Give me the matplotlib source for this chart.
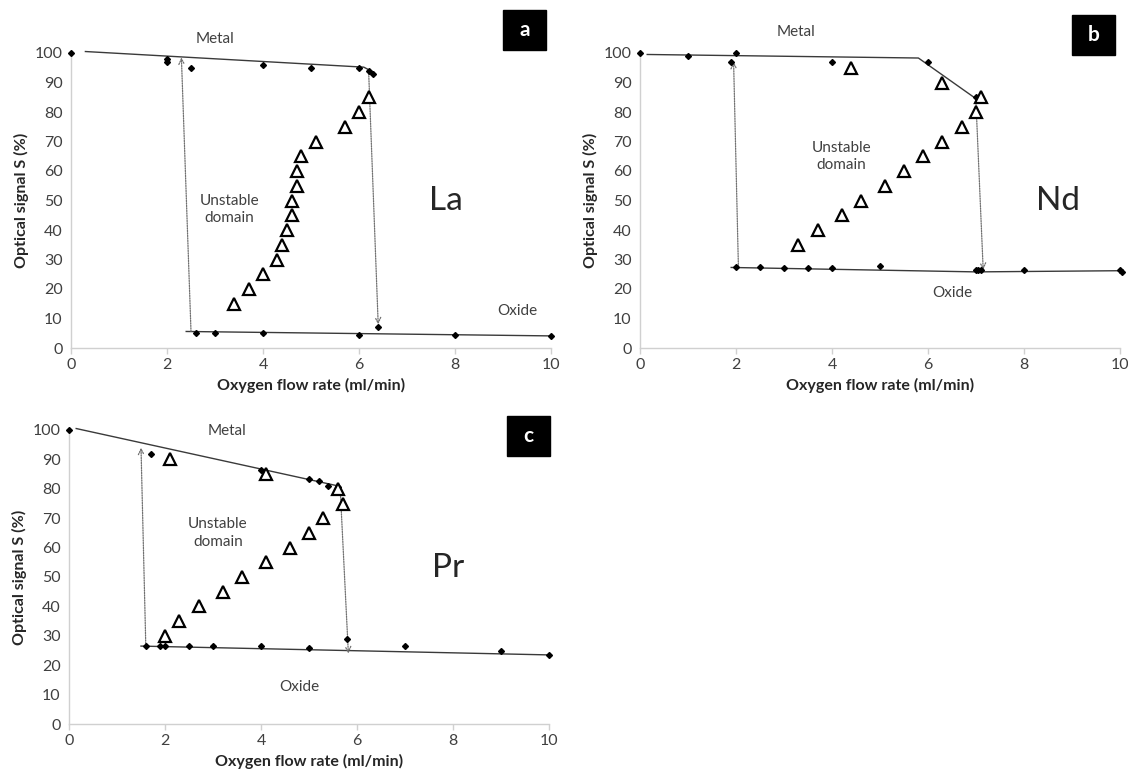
import numpy as np
import matplotlib
matplotlib.use('Agg')
import matplotlib.pyplot as plt
from matplotlib.patches import Rectangle

plt.rcParams['font.family'] = ['Lato', 'DejaVu Sans']

# ---- panel a (La) ----
la_pts_x = [0, 2, 2, 2.5, 4, 5, 6, 6.2, 6.3, 6.4, 2.6, 3, 4, 6, 8, 10]
la_pts_y = [100, 98, 97, 95, 96, 95, 95, 94, 93, 7, 5, 5, 5, 4.5, 4.5, 4.2]
la_tri_x = [3.4, 3.7, 4.0, 4.3, 4.4, 4.5, 4.6, 4.6, 4.7, 4.7, 4.8, 5.1, 5.7, 6.0, 6.2]
la_tri_y = [15, 20, 25, 30, 35, 40, 45, 50, 55, 60, 65, 70, 75, 80, 85]
la_metal_x = [0.3, 6.1, 6.3]
la_metal_y = [100.5, 95.2, 93.5]
la_oxide_x = [2.4, 10]
la_oxide_y = [5.6, 4.1]
la_up = [(2.5, 5.6), (2.3, 98.5)]
la_down = [(6.2, 94), (6.4, 8)]

# ---- panel b (Nd) ----
nd_pts_x = [0, 1, 2, 1.9, 4, 6, 7, 2, 2.5, 3, 3.5, 4, 5, 7, 7.05, 7.1, 8, 10, 10.05]
nd_pts_y = [100, 99, 100, 97, 97, 97, 85, 27.5, 27.5, 27.2, 27.2, 27.2, 27.8, 26.5, 26.3, 26.5, 26.3, 26.3, 25.7]
nd_tri_x = [3.3, 3.7, 4.2, 4.6, 5.1, 5.5, 5.9, 6.3, 6.7, 7.0, 7.1, 6.3, 4.4]
nd_tri_y = [35, 40, 45, 50, 55, 60, 65, 70, 75, 80, 85, 90, 95]
nd_metal_x = [0.15, 5.8, 7.0]
nd_metal_y = [99.5, 98.3, 84.5]
nd_oxide_x = [1.9, 7.0, 10]
nd_oxide_y = [27.3, 25.8, 26.2]
nd_up = [(2.05, 27.5), (1.95, 97)]
nd_down = [(7.0, 83), (7.15, 26.5)]

# ---- panel c (Pr) ----
pr_pts_x = [0, 1.7, 4, 5, 5.2, 5.4, 5.6, 5.8, 1.6, 1.9, 2, 2.5, 3, 4, 5, 7, 9, 10]
pr_pts_y = [100, 92, 86.5, 83.5, 82.5, 81, 80.5, 29, 26.5, 26.5, 26.5, 26.5, 26.5, 26.5, 26, 26.5, 25, 23.5]
pr_tri_x = [2.0, 2.3, 2.7, 3.2, 3.6, 4.1, 4.6, 5.0, 5.3, 5.7, 5.6, 4.1, 2.1]
pr_tri_y = [30, 35, 40, 45, 50, 55, 60, 65, 70, 75, 80, 85, 90]
pr_metal_x = [0.15, 5.6]
pr_metal_y = [100.5, 81]
pr_oxide_x = [1.5, 10]
pr_oxide_y = [26.5, 23.5]
pr_up = [(1.6, 26.5), (1.5, 94)]
pr_down = [(5.65, 80), (5.82, 24)]

fig = plt.figure(figsize=(11.28, 7.77), dpi=100)

def panel(rect, px, py, tx, ty, mx, my, ox, oy, up, down, name, name_xy, unst_xy, metal_xy, oxide_xy):
    ax = fig.add_axes(rect)
    ax.plot(mx, my, color='#3a3a3a', lw=1.0, clip_on=False)
    ax.plot(ox, oy, color='#3a3a3a', lw=1.0, clip_on=False)
    for a in (up, down):
        ax.annotate('', xy=a[1], xytext=a[0],
                    arrowprops=dict(arrowstyle='->', linestyle=(0, (1, 1)), color='#707070', lw=0.9,
                                    shrinkA=0, shrinkB=0))
    ax.plot(px, py, 'D', color='black', ms=3, clip_on=False, zorder=4)
    ax.plot(tx, ty, '^', mfc='white', mec='black', mew=1.6, ms=9, clip_on=False, zorder=5)
    ax.set_xlim(0, 10)
    ax.set_ylim(0, 100)
    ax.set_xticks([0, 2, 4, 6, 8, 10])
    ax.set_yticks(np.arange(0, 101, 10))
    for s in ('top', 'right'):
        ax.spines[s].set_visible(False)
    for s in ('left', 'bottom'):
        ax.spines[s].set_color('#d0d0d0')
        ax.spines[s].set_linewidth(1.0)
    ax.tick_params(axis='x', colors='#d0d0d0', labelcolor='#404040', labelsize=11.5, length=4, width=1)
    ax.tick_params(axis='y', length=0, labelcolor='#404040', labelsize=11.5, pad=6)
    ax.set_xlabel('Oxygen flow rate (ml/min)', fontsize=11.5, fontweight='bold', color='#262626', labelpad=4)
    ax.set_ylabel('Optical signal S (%)', fontsize=11.5, fontweight='bold', color='#262626', labelpad=4)
    ax.text(*name_xy, name, fontsize=24, ha='center', va='center', color='#262626')
    ax.text(*unst_xy, 'Unstable\ndomain', fontsize=11, ha='center', va='center', color='#404040', linespacing=1.3)
    ax.text(*metal_xy, 'Metal', fontsize=11, ha='center', va='center', color='#404040', clip_on=False)
    ax.text(*oxide_xy, 'Oxide', fontsize=11, ha='center', va='center', color='#404040')
    return ax

W, H = 1128, 777
panel([71 / W, 1 - 348 / H, 480 / W, 295 / H], la_pts_x, la_pts_y, la_tri_x, la_tri_y,
      la_metal_x, la_metal_y, la_oxide_x, la_oxide_y, la_up, la_down,
      'La', (7.8, 50), (3.3, 47), (3.0, 104.8), (9.3, 12.5))
panel([640 / W, 1 - 348 / H, 480 / W, 295 / H], nd_pts_x, nd_pts_y, nd_tri_x, nd_tri_y,
      nd_metal_x, nd_metal_y, nd_oxide_x, nd_oxide_y, nd_up, nd_down,
      'Nd', (8.7, 50), (4.2, 65), (3.25, 107), (6.5, 18.5))
panel([69 / W, 1 - 724 / H, 480 / W, 294 / H], pr_pts_x, pr_pts_y, pr_tri_x, pr_tri_y,
      pr_metal_x, pr_metal_y, pr_oxide_x, pr_oxide_y, pr_up, pr_down,
      'Pr', (7.9, 53), (3.1, 65), (3.3, 99.5), (4.8, 12.5))

# letter boxes
for x0, y0, letter in [(503, 10, 'a'), (1072, 15, 'b'), (507, 416, 'c')]:
    fig.patches.append(Rectangle((x0 / W, 1 - (y0 + 40) / H), 43 / W, 40 / H,
                                 transform=fig.transFigure, color='black'))
    fig.text((x0 + 21.5) / W, 1 - (y0 + 20) / H, letter, color='white', fontsize=15,
             fontweight='bold', ha='center', va='center')

fig.savefig('out.png', dpi=100)
